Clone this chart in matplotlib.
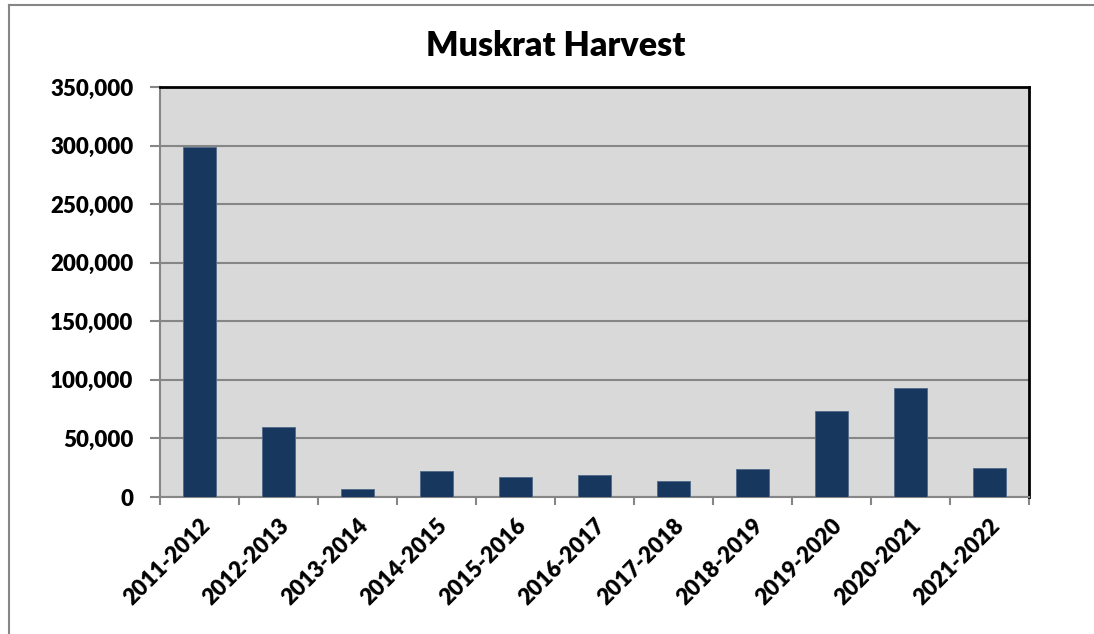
import numpy as np
import matplotlib.pyplot as plt
from matplotlib.lines import Line2D
from matplotlib.ticker import FuncFormatter

seasons = ["2011-2012", "2012-2013", "2013-2014", "2014-2015", "2015-2016",
           "2016-2017", "2017-2018", "2018-2019", "2019-2020", "2020-2021",
           "2021-2022"]
harvest = [298500, 59700, 6500, 22000, 16800, 18500, 14000, 23500, 73300, 93100, 24400]

plt.rcParams['font.family'] = ['Lato', 'DejaVu Sans']

fig = plt.figure(figsize=(10.94, 6.34), dpi=100)
ax = fig.add_axes([160/1094, 1 - 497/634, (1029-160)/1094, (497-87)/634])

# outer chart frame (only top and left edges are inside the picture)
fl = 9/1094
ft = 1 - 5/634
fig.lines.append(Line2D([fl, 1.0], [ft, ft], transform=fig.transFigure, color='#868686', linewidth=1.5))
fig.lines.append(Line2D([fl, fl], [0, ft], transform=fig.transFigure, color='#868686', linewidth=1.5))

x = np.arange(len(seasons))
ax.set_facecolor('#D9D9D9')
ax.bar(x, harvest, width=0.41, color='#17375E', edgecolor='#4F6A8A', linewidth=0.6, zorder=3)

ax.set_xlim(-0.5, len(seasons) - 0.5)
ax.set_ylim(0, 350000)
ax.set_yticks(np.arange(0, 350001, 50000))
ax.yaxis.set_major_formatter(FuncFormatter(lambda v, p: f"{int(v):,}"))
ax.grid(axis='y', color='#868686', linewidth=1.5, zorder=1)

ax.set_xticks(np.arange(-0.5, len(seasons)), minor=False)
ax.set_xticklabels([])
ax.set_xticks(x, minor=True)
ax.set_xticklabels(seasons, minor=True, rotation=45, ha='right', rotation_mode='anchor',
                   fontsize=16, fontweight='heavy')
ax.tick_params(axis='x', which='minor', length=0, pad=13)
ax.tick_params(axis='x', which='major', length=6, width=1.5, color='#868686')
ax.tick_params(axis='y', length=7, width=1.5, color='#868686', labelsize=16, pad=12)
for lbl in ax.get_yticklabels():
    lbl.set_fontweight('heavy')

ax.spines['left'].set_color('#868686')
ax.spines['bottom'].set_color('#868686')
ax.spines['left'].set_linewidth(1.5)
ax.spines['bottom'].set_linewidth(1.5)
ax.spines['top'].set_color('black')
ax.spines['right'].set_color('black')
ax.spines['top'].set_linewidth(2)
ax.spines['right'].set_linewidth(2)

fig.text(556/1094, 1 - 46/634, "Muskrat Harvest", ha='center', va='center',
         fontsize=24.5, fontweight='heavy')

fig.savefig('out.png', dpi=100)
